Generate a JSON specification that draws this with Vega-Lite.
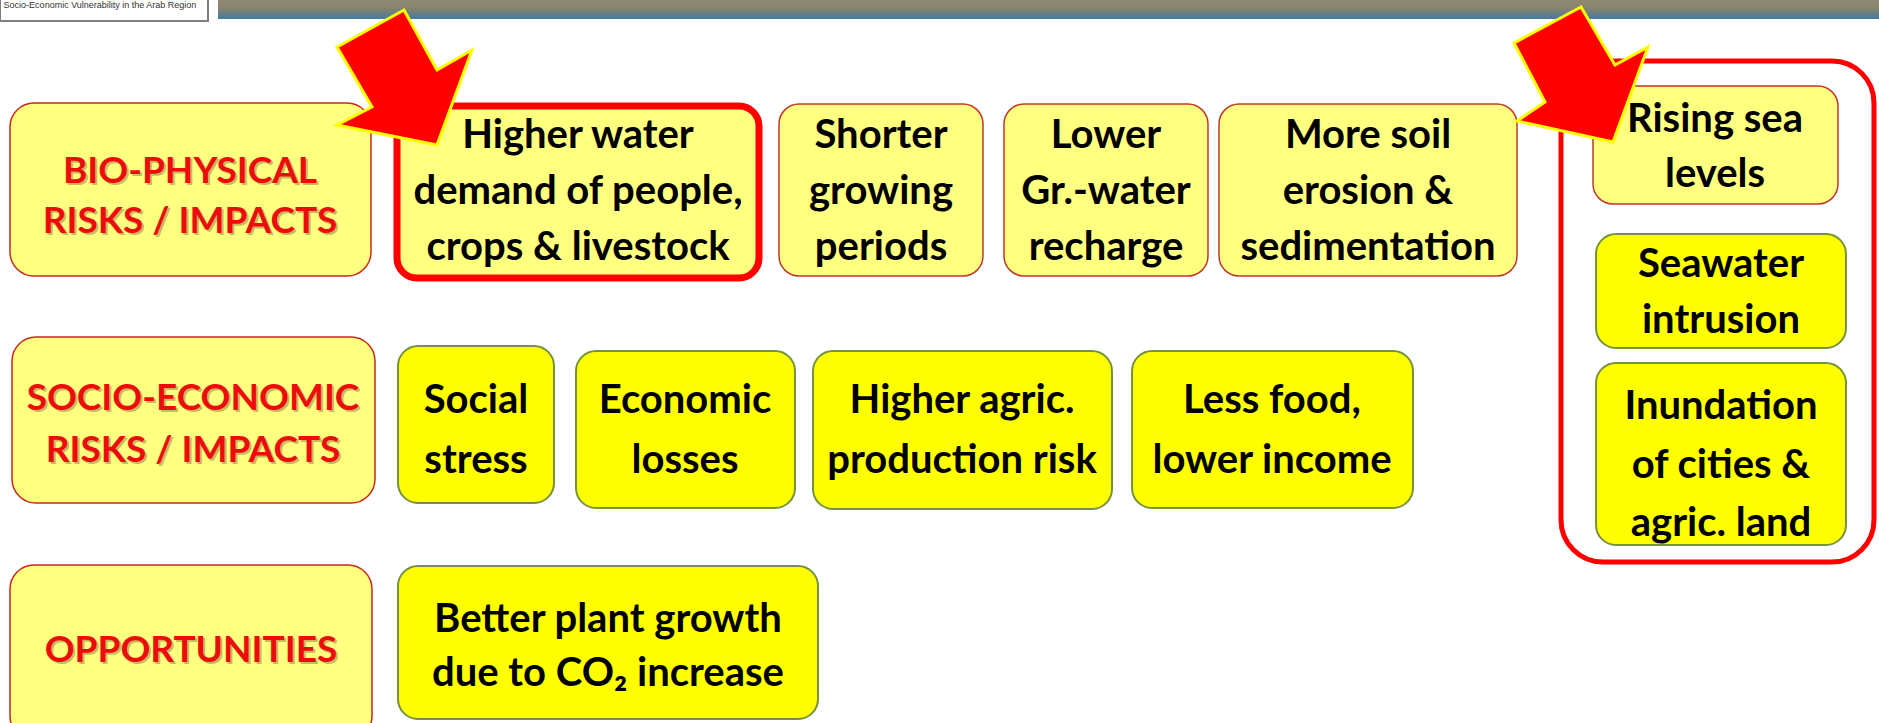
{
  "$schema": "https://vega.github.io/schema/vega-lite/v6.json",
  "width": 1879,
  "height": 723,
  "autosize": {"type": "fit", "contains": "padding"},
  "padding": 0,
  "background": "#ffffff",
  "config": {"view": {"stroke": null}},
  "datasets": {
    "header": [
      {"part": "bar", "x": 218, "x2": 1879, "y": 0, "y2": 19},
      {"part": "box", "x": 0, "x2": 208, "y": -2, "y2": 21}
    ],
    "headertext": [
      {"text": "Socio-Economic Vulnerability in the Arab Region", "x": 100, "y": 8}
    ],
    "boxes": [
      {"name": "bio_head", "kind": "heading", "x": 10, "x2": 371, "y": 103, "y2": 276},
      {"name": "socio_head", "kind": "heading", "x": 12, "x2": 375, "y": 337, "y2": 503},
      {"name": "opp_head", "kind": "heading_cut", "x": 10, "x2": 372, "y": 565, "y2": 740},
      {"name": "water", "kind": "highlight", "x": 397, "x2": 759, "y": 106, "y2": 278},
      {"name": "shorter", "kind": "bio", "x": 779, "x2": 983, "y": 104, "y2": 276},
      {"name": "lower", "kind": "bio", "x": 1004, "x2": 1208, "y": 104, "y2": 276},
      {"name": "soil", "kind": "bio", "x": 1219, "x2": 1517, "y": 104, "y2": 276},
      {"name": "sea", "kind": "bio", "x": 1593, "x2": 1838, "y": 86, "y2": 204},
      {"name": "seawater", "kind": "socio", "x": 1596, "x2": 1846, "y": 234, "y2": 348},
      {"name": "inundation", "kind": "socio", "x": 1596, "x2": 1846, "y": 363, "y2": 545},
      {"name": "social", "kind": "socio", "x": 398, "x2": 554, "y": 346, "y2": 503},
      {"name": "economic", "kind": "socio", "x": 576, "x2": 795, "y": 351, "y2": 508},
      {"name": "agric", "kind": "socio", "x": 813, "x2": 1112, "y": 351, "y2": 509},
      {"name": "food", "kind": "socio", "x": 1132, "x2": 1413, "y": 351, "y2": 508},
      {"name": "co2", "kind": "socio", "x": 398, "x2": 818, "y": 566, "y2": 719},
      {"name": "coastal", "kind": "frame", "x": 1561, "x2": 1874, "y": 61, "y2": 562}
    ],
    "labels": [
      {"kind": "head", "text": "BIO-PHYSICAL", "x": 190, "y": 183},
      {"kind": "head", "text": "RISKS / IMPACTS", "x": 190, "y": 233},
      {"kind": "head", "text": "SOCIO-ECONOMIC", "x": 193, "y": 410},
      {"kind": "head", "text": "RISKS / IMPACTS", "x": 193, "y": 462},
      {"kind": "head", "text": "OPPORTUNITIES", "x": 191, "y": 662},
      {"kind": "body", "text": "Higher water", "x": 578, "y": 148},
      {"kind": "body", "text": "demand of people,", "x": 578, "y": 204},
      {"kind": "body", "text": "crops  & livestock", "x": 578, "y": 260},
      {"kind": "body", "text": "Shorter", "x": 881, "y": 148},
      {"kind": "body", "text": "growing", "x": 881, "y": 204},
      {"kind": "body", "text": "periods", "x": 881, "y": 260},
      {"kind": "body", "text": "Lower", "x": 1106, "y": 148},
      {"kind": "body", "text": "Gr.-water", "x": 1106, "y": 204},
      {"kind": "body", "text": "recharge", "x": 1106, "y": 260},
      {"kind": "body", "text": "More soil", "x": 1368, "y": 148},
      {"kind": "body", "text": "erosion &", "x": 1368, "y": 204},
      {"kind": "body", "text": "sedimentation", "x": 1368, "y": 260},
      {"kind": "body", "text": "Rising sea", "x": 1715, "y": 132},
      {"kind": "body", "text": "levels", "x": 1715, "y": 187},
      {"kind": "body", "text": "Seawater", "x": 1721, "y": 277},
      {"kind": "body", "text": "intrusion", "x": 1721, "y": 333},
      {"kind": "body", "text": "Inundation", "x": 1721, "y": 419},
      {"kind": "body", "text": "of  cities &", "x": 1721, "y": 478},
      {"kind": "body", "text": "agric. land", "x": 1721, "y": 536},
      {"kind": "body", "text": "Social", "x": 476, "y": 413},
      {"kind": "body", "text": "stress", "x": 476, "y": 473},
      {"kind": "body", "text": "Economic", "x": 685, "y": 413},
      {"kind": "body", "text": "losses", "x": 685, "y": 473},
      {"kind": "body", "text": "Higher agric.", "x": 962, "y": 413},
      {"kind": "body", "text": "production risk", "x": 962, "y": 473},
      {"kind": "body", "text": "Less food,", "x": 1272, "y": 413},
      {"kind": "body", "text": "lower income", "x": 1272, "y": 473},
      {"kind": "body", "text": "Better plant growth", "x": 608, "y": 632},
      {"kind": "body", "text": "due to CO₂ increase", "x": 608, "y": 686}
    ],
    "arrows": [
      {"arrow": "left", "i": 0, "x": 404, "y": 10},
      {"arrow": "left", "i": 1, "x": 337, "y": 47},
      {"arrow": "left", "i": 2, "x": 372, "y": 107},
      {"arrow": "left", "i": 3, "x": 337, "y": 125},
      {"arrow": "left", "i": 4, "x": 437, "y": 145},
      {"arrow": "left", "i": 5, "x": 472, "y": 50},
      {"arrow": "left", "i": 6, "x": 437, "y": 70},
      {"arrow": "right", "i": 0, "x": 1581, "y": 7},
      {"arrow": "right", "i": 1, "x": 1514, "y": 43},
      {"arrow": "right", "i": 2, "x": 1545, "y": 102},
      {"arrow": "right", "i": 3, "x": 1517, "y": 121},
      {"arrow": "right", "i": 4, "x": 1613, "y": 142},
      {"arrow": "right", "i": 5, "x": 1648, "y": 47},
      {"arrow": "right", "i": 6, "x": 1615, "y": 65}
    ]
  },
  "encoding": {
    "x": {"field": "x", "type": "quantitative", "scale": {"domain": [0, 1879], "nice": false, "zero": false}, "axis": null},
    "y": {"field": "y", "type": "quantitative", "scale": {"domain": [0, 723], "nice": false, "zero": false, "reverse": true}, "axis": null}
  },
  "layer": [
    {
      "data": {"name": "header"},
      "transform": [{"filter": "datum.part === 'bar'"}],
      "mark": {"type": "rect", "clip": true, "fill": {"gradient": "linear", "x1": 0, "y1": 0, "x2": 0, "y2": 1, "stops": [{"offset": 0, "color": "#918a72"}, {"offset": 0.45, "color": "#85836f"}, {"offset": 1, "color": "#457aa0"}]}},
      "encoding": {"x2": {"field": "x2"}, "y2": {"field": "y2"}}
    },
    {
      "data": {"name": "header"},
      "transform": [{"filter": "datum.part === 'box'"}],
      "mark": {"type": "rect", "clip": true, "fill": "#ffffff", "stroke": "#7f7f7f", "strokeWidth": 2},
      "encoding": {"x2": {"field": "x2"}, "y2": {"field": "y2"}}
    },
    {
      "data": {"name": "headertext"},
      "mark": {"type": "text", "font": "Liberation Sans, sans-serif", "fontSize": 9, "color": "#333333", "align": "center", "baseline": "alphabetic"},
      "encoding": {"text": {"field": "text"}}
    },
    {
      "data": {"name": "boxes"},
      "transform": [{"filter": "datum.kind === 'frame'"}],
      "mark": {"type": "rect", "fill": null, "fillOpacity": 0, "stroke": "#ff0000", "strokeWidth": 5, "cornerRadius": 42},
      "encoding": {"x2": {"field": "x2"}, "y2": {"field": "y2"}}
    },
    {
      "data": {"name": "boxes"},
      "transform": [{"filter": "datum.kind === 'heading'"}],
      "mark": {"type": "rect", "fill": "#ffff80", "stroke": "#c8281e", "strokeWidth": 1.5, "cornerRadius": 24},
      "encoding": {"x2": {"field": "x2"}, "y2": {"field": "y2"}}
    },
    {
      "data": {"name": "boxes"},
      "transform": [{"filter": "datum.kind === 'heading_cut'"}],
      "mark": {"type": "rect", "fill": "#ffff80", "stroke": "#c8281e", "strokeWidth": 1.5, "cornerRadius": 24, "clip": true},
      "encoding": {"x2": {"field": "x2"}, "y2": {"field": "y2"}}
    },
    {
      "data": {"name": "boxes"},
      "transform": [{"filter": "datum.kind === 'highlight'"}],
      "mark": {"type": "rect", "fill": "#ffff80", "stroke": "#ff0000", "strokeWidth": 7, "cornerRadius": 20},
      "encoding": {"x2": {"field": "x2"}, "y2": {"field": "y2"}}
    },
    {
      "data": {"name": "boxes"},
      "transform": [{"filter": "datum.kind === 'bio'"}],
      "mark": {"type": "rect", "fill": "#ffff80", "stroke": "#c0392b", "strokeWidth": 1.5, "cornerRadius": 20},
      "encoding": {"x2": {"field": "x2"}, "y2": {"field": "y2"}}
    },
    {
      "data": {"name": "boxes"},
      "transform": [{"filter": "datum.kind === 'socio'"}],
      "mark": {"type": "rect", "fill": "#ffff00", "stroke": "#76923c", "strokeWidth": 2, "cornerRadius": 20},
      "encoding": {"x2": {"field": "x2"}, "y2": {"field": "y2"}}
    },
    {
      "data": {"name": "labels"},
      "transform": [{"filter": "datum.kind === 'head'"}],
      "mark": {"type": "text", "font": "Lato, sans-serif", "fontWeight": "bold", "fontSize": 37, "color": "#6b3a1e", "opacity": 0.35, "dx": 2, "dy": 2, "align": "center", "baseline": "alphabetic"},
      "encoding": {"text": {"field": "text"}}
    },
    {
      "data": {"name": "labels"},
      "transform": [{"filter": "datum.kind === 'head'"}],
      "mark": {"type": "text", "font": "Lato, sans-serif", "fontWeight": "bold", "fontSize": 37, "color": "#ec0c0c", "align": "center", "baseline": "alphabetic"},
      "encoding": {"text": {"field": "text"}}
    },
    {
      "data": {"name": "labels"},
      "transform": [{"filter": "datum.kind === 'body'"}],
      "mark": {"type": "text", "font": "Lato, sans-serif", "fontWeight": "bold", "fontSize": 40, "color": "#000000", "align": "center", "baseline": "alphabetic"},
      "encoding": {"text": {"field": "text"}}
    },
    {
      "data": {"name": "arrows"},
      "mark": {"type": "line", "filled": true, "fill": "#ff0000", "stroke": "#ffff00", "strokeWidth": 3, "strokeJoin": "miter", "interpolate": "linear-closed"},
      "encoding": {"detail": {"field": "arrow"}, "order": {"field": "i", "type": "quantitative"}}
    }
  ]
}
